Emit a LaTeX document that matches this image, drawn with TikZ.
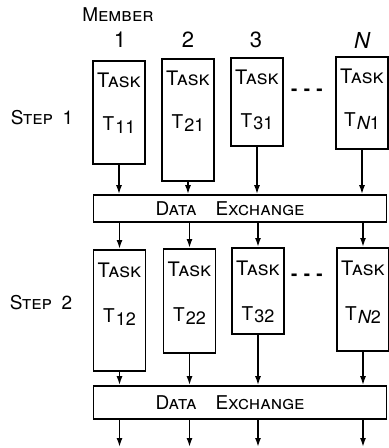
\documentclass[tikz,border=0pt]{standalone}
\usepackage{fontspec}
\setmainfont{TeX Gyre Heros}
\usetikzlibrary{arrows.meta}

\newcommand{\tsub}[1]{T\kern0.5pt\raisebox{-1.2pt}{\small #1}}

\begin{document}
\begin{tikzpicture}[x=0.5pt,y=-0.5pt,line width=0.8pt,
  font=\fontsize{9.5}{11}\selectfont,
  taskbox/.style={draw,rectangle,anchor=north,minimum width=26pt,inner sep=0pt},
  dxbox/.style={draw,rectangle,minimum width=146.5pt,inner sep=0pt},
  arr/.style={-{Latex[length=4.5pt,width=3pt]}}]
\useasboundingbox (0,0) rectangle (388,448);

% column heads
\node (member) at (118,15) {\textsc{Member}};
\node (m1) at (120,40) {\fontsize{11}{12}\selectfont 1};
\node (m2) at (188,40) {\fontsize{11}{12}\selectfont 2};
\node (m3) at (256,40) {\fontsize{11}{12}\selectfont 3};
\node (mN) at (362,40) {\fontsize{11}{12}\selectfont\itshape N};

% step labels
\node (s1) at (42,118) {\textsc{Step}\enspace 1};
\node (s2) at (41,303) {\textsc{Step}\enspace 2};

% tasks of step 1
\foreach \i/\x/\top/\h/\lab in {1/119/60/103/11, 2/188/58/122/21,
    3/257/57/88/31, N/362/56/92/{\itshape N}1} {
  \node[taskbox,minimum height=\h*0.5pt] (t\i1) at (\x,\top) {};
  \node (k\i1) at (\x,\top+20) {\fontsize{10}{11}\selectfont\textsc{Task}};
  \node (n\i1) at (\x,\top+65) {\tsub{\lab}};
}
% tasks of step 2
\foreach \i/\x/\top/\h/\lab in {1/119.5/249/121/12, 2/189.5/248/104/22,
    3/258/247/86/32, N/363/247/103/{\itshape N}2} {
  \node[taskbox,minimum height=\h*0.5pt] (t\i2) at (\x,\top) {};
  \node (k\i2) at (\x,\top+21) {\fontsize{10}{11}\selectfont\textsc{Task}};
  \node (n\i2) at (\x,\top+68) {\tsub{\lab}};
}
\node (d1) at (307,92) {\textbf{-\,\,-\,\,-}};
\node (d2) at (307,277) {\textbf{-\,\,-\,\,-}};

% exchanges
\node[dxbox,minimum height=13.5pt] (dx1) at (240,208.5) {\textsc{Data}\quad\textsc{Exchange}\hspace*{10pt}};
\node[dxbox,minimum height=16.5pt] (dx2) at (240,402.5) {\textsc{Data}\quad\textsc{Exchange}\hspace*{10pt}};

\foreach \i in {1,2,3,N} {
  \coordinate (e\i) at (t\i2.south |- 0,447);
  \draw[arr] (t\i1.south) -- (t\i1.south |- dx1.north);
  \draw[arr] (t\i2.north |- dx1.south) -- (t\i2.north);
  \draw[arr] (t\i2.south) -- (t\i2.south |- dx2.north);
  \draw[arr] (t\i2.south |- dx2.south) -- (e\i);
}
\end{tikzpicture}
\end{document}
